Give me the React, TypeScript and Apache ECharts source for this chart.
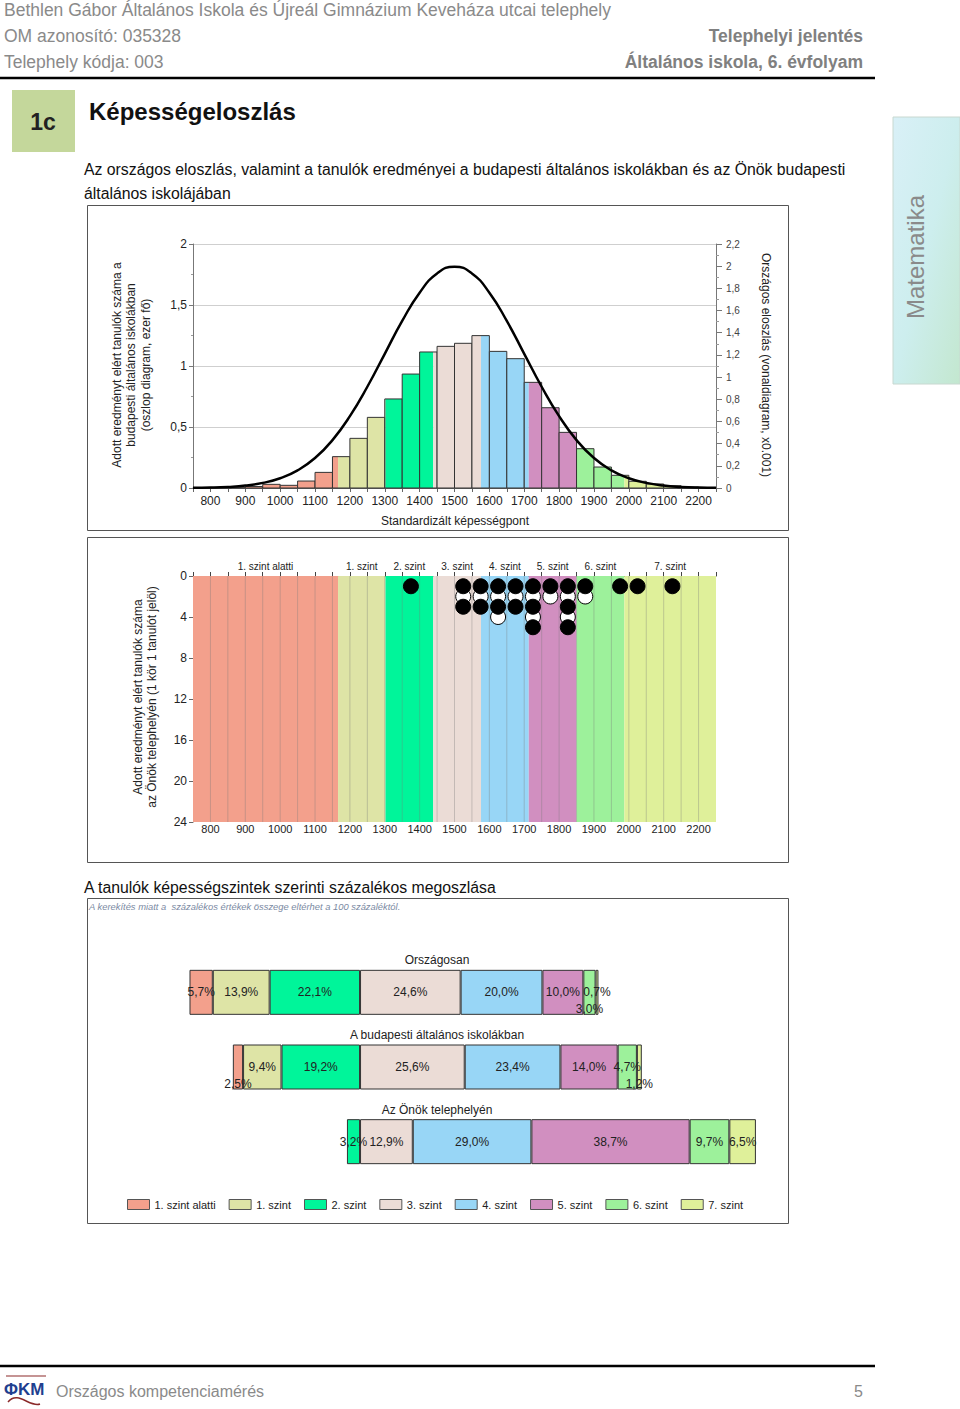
import React, { useEffect, useRef } from "react";
import * as echarts from "echarts";

const FONT = "'Liberation Sans', Arial, Helvetica, sans-serif";

// ---- levels ----
const LEVEL_NAMES = ["1. szint alatti", "1. szint", "2. szint", "3. szint", "4. szint", "5. szint", "6. szint", "7. szint"];
const LEVEL_COLORS = ["#F3A08C", "#DEE4A6", "#00F59A", "#EBDCD6", "#98D6F6", "#D18FC0", "#9DF19B", "#DFF09A"];
const LEVEL_BOUNDS = [750, 1166, 1302, 1439, 1576, 1713, 1850, 1987, 2250];

// ---- chart 1: Budapest histogram (thousand students) ----
const BIN_STARTS = [750, 800, 850, 900, 950, 1000, 1050, 1100, 1150, 1200, 1250, 1300, 1350, 1400, 1450, 1500, 1550, 1600, 1650, 1700, 1750, 1800, 1850, 1900, 1950, 2000, 2050, 2100, 2150, 2200];
const BIN_WIDTH = 50;
const BUDAPEST_COUNTS = [0.002, 0.004, 0.006, 0.012, 0.03, 0.022, 0.057, 0.128, 0.257, 0.407, 0.579, 0.73, 0.934, 1.115, 1.161, 1.186, 1.249, 1.12, 1.06, 0.866, 0.658, 0.456, 0.322, 0.172, 0.104, 0.055, 0.033, 0.019, 0.008, 0.002];

// national distribution curve (x0.001)
const CURVE_X = [750, 800, 850, 900, 950, 1000, 1050, 1100, 1150, 1200, 1250, 1300, 1350, 1400, 1450, 1500, 1550, 1600, 1650, 1700, 1750, 1800, 1850, 1900, 1950, 2000, 2050, 2100, 2150, 2200, 2250];
const CURVE_Y = [0.002, 0.004, 0.01, 0.022, 0.046, 0.088, 0.159, 0.27, 0.432, 0.648, 0.913, 1.21, 1.506, 1.761, 1.934, 1.995, 1.934, 1.761, 1.506, 1.21, 0.913, 0.648, 0.432, 0.27, 0.159, 0.088, 0.046, 0.022, 0.01, 0.004, 0.002];

// ---- chart 2: students of the site (one circle = one student) ----
const DOT_COLUMNS = [1375, 1525, 1575, 1625, 1675, 1725, 1775, 1825, 1875, 1975, 2025, 2125];
const DOT_PATTERNS = ["B", "BWB", "BWB", "BWBW", "BWB", "BWBWB", "BW", "BWBWB", "BW", "B", "B", "B"];

// ---- chart 3: percentage distribution ----
const GROUPS = ["Országosan", "A budapesti általános iskolákban", "Az Önök telephelyén"];
const PCT_ORSZAGOS = [5.7, 13.9, 22.1, 24.6, 20.0, 10.0, 3.0, 0.7];
const PCT_BUDAPEST = [2.5, 9.4, 19.2, 25.6, 23.4, 14.0, 4.7, 1.2];
const PCT_TELEPHELY = [0, 0, 3.2, 12.9, 29.0, 38.7, 9.7, 6.5];

const comma = (v: number) => String(Math.round(v * 100) / 100).replace(".", ",");
const pct = (v: number) => Math.abs(v).toFixed(1).replace(".", ",") + "%";

function txt(x: number, y: number, text: string, o: any = {}) {
  return {
    type: "text",
    x,
    y,
    rotation: o.rotation || 0,
    silent: true,
    style: {
      text,
      fontSize: o.size || 12,
      fontFamily: FONT,
      fontWeight: o.bold ? "bold" : "normal",
      fontStyle: o.italic ? "italic" : "normal",
      fill: o.color || "#222",
      align: o.align || "left",
      verticalAlign: "middle",
      lineHeight: o.lineHeight,
    },
  };
}

function buildOption() {
  const histData = BIN_STARTS.map((s, i) => [s, s + BIN_WIDTH, BUDAPEST_COUNTS[i]]);
  const curveData = CURVE_X.map((x, i) => [x, CURVE_Y[i]]);
  const bandData = LEVEL_NAMES.map((_, i) => [LEVEL_BOUNDS[i], LEVEL_BOUNDS[i + 1], i]);
  const vLines: number[][] = [];
  for (let v = 800; v <= 2200; v += 50) vLines.push([v]);
  const whiteDots: any[] = [];
  const blackDots: any[] = [];
  DOT_COLUMNS.forEach((x, c) => {
    DOT_PATTERNS[c].split("").forEach((ch, r) => {
      (ch === "B" ? blackDots : whiteDots).push([x, r + 1]);
    });
  });

  const pctRows = [PCT_ORSZAGOS, PCT_BUDAPEST, PCT_TELEPHELY];
  const bottomLabel: Record<string, boolean> = { "0-6": true, "1-0": true, "1-7": true };
  const stackOrder = [2, 1, 0, 3, 4, 5, 6, 7];
  const barSeries = stackOrder.map((l) => ({
    type: "bar",
    name: LEVEL_NAMES[l],
    stack: "dist",
    xAxisIndex: 3,
    yAxisIndex: 3,
    barWidth: 45,
    itemStyle: { color: LEVEL_COLORS[l], borderColor: "#333", borderWidth: 1 },
    label: {
      show: true,
      position: "inside",
      fontSize: 12,
      fontFamily: FONT,
      color: "#222",
      formatter: (p: any) => pct(p.value),
    },
    data: pctRows.map((row, r) => {
      const v = row[l];
      if (!v) return "-";
      const item: any = { value: l < 3 ? -v : v };
      if (bottomLabel[`${r}-${l}`]) item.label = { position: "insideBottom", distance: 0 };
      return item;
    }),
  }));

  const graphic: any[] = [
    // header
    txt(4, 10, "Bethlen Gábor Általános Iskola és Újreál Gimnázium Keveháza utcai telephely", { size: 17.5, color: "#8a8a8a" }),
    txt(4, 36, "OM azonosító: 035328", { size: 17.5, color: "#8a8a8a" }),
    txt(4, 62, "Telephely kódja: 003", { size: 17.5, color: "#8a8a8a" }),
    txt(863, 36, "Telephelyi jelentés", { size: 17.5, color: "#808080", bold: true, align: "right" }),
    txt(863, 62, "Általános iskola, 6. évfolyam", { size: 17.5, color: "#808080", bold: true, align: "right" }),
    { type: "line", shape: { x1: 0, y1: 78, x2: 875, y2: 78 }, style: { stroke: "#000", lineWidth: 2.5 } },
    { type: "rect", shape: { x: 12, y: 90, width: 63, height: 62 }, style: { fill: "#C4D79B" } },
    txt(43, 122, "1c", { size: 23, bold: true, color: "#222", align: "center" }),
    txt(89, 111, "Képességeloszlás", { size: 24, bold: true, color: "#111" }),
    txt(84, 169, "Az országos eloszlás, valamint a tanulók eredményei a budapesti általános iskolákban és az Önök budapesti", { size: 15.8, color: "#111" }),
    txt(84, 193, "általános iskolájában", { size: 15.8, color: "#111" }),
    // side tab
    {
      type: "rect",
      shape: { x: 893, y: 117, width: 67, height: 267 },
      style: {
        fill: new echarts.graphic.LinearGradient(0, 0, 1, 1, [
          { offset: 0, color: "#d9f0f7" },
          { offset: 0.5, color: "#cdeeee" },
          { offset: 1, color: "#c3e7cf" },
        ]),
        stroke: "#c8d8d0",
        lineWidth: 1,
      },
    },
    txt(915, 257, "Matematika", { size: 24, color: "#8a8a8a", align: "center", rotation: Math.PI / 2 }),
    // chart boxes
    { type: "rect", shape: { x: 87.5, y: 205.5, width: 701, height: 325 }, style: { fill: "none", stroke: "#555", lineWidth: 1 } },
    { type: "rect", shape: { x: 87.5, y: 537.5, width: 701, height: 325 }, style: { fill: "none", stroke: "#555", lineWidth: 1 } },
    { type: "rect", shape: { x: 87.5, y: 898.5, width: 701, height: 325 }, style: { fill: "none", stroke: "#555", lineWidth: 1 } },
    // chart 1 titles
    txt(131, 365, "Adott eredményt elért tanulók száma a\nbudapesti általános iskolákban\n(oszlop diagram, ezer fő)", { size: 12, align: "center", rotation: Math.PI / 2, lineHeight: 14.5 }),
    txt(766, 365, "Országos eloszlás (vonaldiagram, x0.001)", { size: 12, align: "center", rotation: -Math.PI / 2 }),
    txt(455, 521, "Standardizált képességpont", { size: 12, align: "center" }),
    // chart 2 title
    txt(145, 697, "Adott eredményt elért tanulók száma\naz Önök telephelyén (1 kör 1 tanulót jelöl)", { size: 12, align: "center", rotation: Math.PI / 2, lineHeight: 14.5 }),
    // chart 3 texts
    txt(84, 887, "A tanulók képességszintek szerinti százalékos megoszlása", { size: 15.8, color: "#111" }),
    txt(89, 906, "A kerekítés miatt a  százalékos értékek összege eltérhet a 100 százaléktól.", { size: 9.4, italic: true, color: "#7b8aa3" }),
    txt(437, 960, GROUPS[0], { size: 12, align: "center" }),
    txt(437, 1035, GROUPS[1], { size: 12, align: "center" }),
    txt(437, 1110, GROUPS[2], { size: 12, align: "center" }),
    // footer
    { type: "line", shape: { x1: 0, y1: 1366, x2: 875, y2: 1366 }, style: { stroke: "#000", lineWidth: 2.5 } },
    { type: "bezierCurve", shape: { x1: 8, y1: 1402, x2: 40, y2: 1404, cpx1: 18, cpy1: 1390, cpx2: 30, cpy2: 1408 }, style: { stroke: "#8b2a2a", lineWidth: 1.5, fill: "none" } },
    { type: "line", shape: { x1: 6, y1: 1376, x2: 46, y2: 1376 }, style: { stroke: "#8b2a2a", lineWidth: 1.2 } },
    txt(4, 1389, "ΦKM", { size: 17, color: "#1f3f8f", bold: true }),
    txt(56, 1391, "Országos kompetenciamérés", { size: 16, color: "#8a8a8a" }),
    txt(863, 1391, "5", { size: 16, color: "#8a8a8a", align: "right" }),
  ];

  const labelColor = "#222";
  return {
    animation: false,
    backgroundColor: "#fff",
    textStyle: { fontFamily: FONT },
    grid: [
      { left: 193, top: 244, width: 523, height: 244 },
      { left: 193, top: 576, width: 523, height: 246 },
      { left: 176, top: 955, width: 593, height: 224 },
    ],
    xAxis: [
      {
        gridIndex: 0, type: "value", min: 750, max: 2250, interval: 50,
        axisLine: { show: true, lineStyle: { color: "#666" } },
        axisTick: { show: true, length: 4, lineStyle: { color: "#666" } },
        axisLabel: { fontSize: 12, color: labelColor, margin: 7, formatter: (v: number) => (v % 100 === 0 && v > 750 && v < 2250 ? String(v) : "") },
        splitLine: { show: false },
      },
      {
        gridIndex: 1, type: "value", min: 750, max: 2250, interval: 50,
        axisLine: { show: false }, axisTick: { show: false },
        axisLabel: { fontSize: 11, color: labelColor, margin: 1, formatter: (v: number) => (v % 100 === 0 && v > 750 && v < 2250 ? String(v) : "") },
        splitLine: { show: false },
      },
      {
        gridIndex: 1, type: "value", position: "top", min: 750, max: 2250, interval: 50,
        axisLine: { show: true, lineStyle: { color: "#444" } },
        axisTick: { show: true, length: 4, lineStyle: { color: "#444" } },
        axisLabel: { show: false }, splitLine: { show: false },
      },
      { gridIndex: 2, type: "value", min: -45, max: 100, show: false },
    ],
    yAxis: [
      {
        gridIndex: 0, type: "value", min: 0, max: 2, interval: 0.5,
        axisLine: { show: true, lineStyle: { color: "#777" } },
        axisTick: { show: true, length: 4, lineStyle: { color: "#777" } },
        minorTick: { show: true, splitNumber: 2, length: 2, lineStyle: { color: "#999" } },
        axisLabel: { fontSize: 12, color: labelColor, margin: 6, formatter: comma },
        splitLine: { show: true, lineStyle: { color: "#cfcfcf" } },
      },
      {
        gridIndex: 0, type: "value", position: "right", min: 0, max: 2.2, interval: 0.2,
        axisLine: { show: true, lineStyle: { color: "#777" } },
        axisTick: { show: true, length: 6, lineStyle: { color: "#777" } },
        minorTick: { show: true, splitNumber: 2, length: 3, lineStyle: { color: "#999" } },
        axisLabel: { fontSize: 10, color: "#444", margin: 10, formatter: comma },
        splitLine: { show: false },
      },
      {
        gridIndex: 1, type: "value", inverse: true, min: 0, max: 24, interval: 4,
        axisLine: { show: true, lineStyle: { color: "#666" } },
        axisTick: { show: true, length: 4, lineStyle: { color: "#666" } },
        axisLabel: { fontSize: 12, color: labelColor, margin: 6 },
        splitLine: { show: false },
      },
      { gridIndex: 2, type: "category", data: GROUPS, inverse: true, show: false },
    ],
    legend: {
      data: LEVEL_NAMES,
      left: 122,
      top: 1194,
      icon: "rect",
      itemWidth: 22,
      itemHeight: 10,
      itemGap: 13,
      selectedMode: false,
      textStyle: { fontSize: 11, color: "#222", fontFamily: FONT },
      itemStyle: { borderColor: "#555", borderWidth: 1 },
    },
    series: [
      {
        type: "custom",
        name: "hist",
        xAxisIndex: 0,
        yAxisIndex: 0,
        data: histData,
        encode: { x: [0, 1], y: 2 },
        renderItem: (params: any, api: any) => {
          const x0 = api.value(0), x1 = api.value(1), h = api.value(2);
          const children: any[] = [];
          for (let l = 0; l < LEVEL_NAMES.length; l++) {
            const a = Math.max(x0, LEVEL_BOUNDS[l]);
            const b = Math.min(x1, LEVEL_BOUNDS[l + 1]);
            if (b > a) {
              const p0 = api.coord([a, h]);
              const p1 = api.coord([b, 0]);
              children.push({ type: "rect", shape: { x: p0[0], y: p0[1], width: p1[0] - p0[0], height: p1[1] - p0[1] }, style: { fill: LEVEL_COLORS[l] } });
            }
          }
          const q0 = api.coord([x0, h]);
          const q1 = api.coord([x1, 0]);
          children.push({ type: "rect", shape: { x: q0[0], y: q0[1], width: q1[0] - q0[0], height: q1[1] - q0[1] }, style: { fill: "none", stroke: "#333", lineWidth: 1 } });
          return { type: "group", children };
        },
        z: 2,
      },
      {
        type: "line",
        name: "curve",
        xAxisIndex: 0,
        yAxisIndex: 1,
        data: curveData,
        smooth: true,
        symbol: "none",
        lineStyle: { color: "#000", width: 2.5 },
        z: 5,
      },
      {
        type: "custom",
        name: "bands",
        xAxisIndex: 1,
        yAxisIndex: 2,
        data: bandData,
        renderItem: (params: any, api: any) => {
          const p0 = api.coord([api.value(0), 0]);
          const p1 = api.coord([api.value(1), 24]);
          return { type: "rect", shape: { x: p0[0], y: p0[1], width: p1[0] - p0[0], height: p1[1] - p0[1] }, style: { fill: LEVEL_COLORS[api.value(2)] } };
        },
        z: 1,
      },
      {
        type: "custom",
        name: "vlines",
        xAxisIndex: 1,
        yAxisIndex: 2,
        data: vLines,
        renderItem: (params: any, api: any) => {
          const p0 = api.coord([api.value(0), 0]);
          const p1 = api.coord([api.value(0), 24]);
          return { type: "line", shape: { x1: p0[0], y1: p0[1], x2: p1[0], y2: p1[1] }, style: { stroke: "rgba(120,120,120,0.35)", lineWidth: 1 } };
        },
        z: 2,
      },
      {
        type: "custom",
        name: "levelLabels",
        xAxisIndex: 1,
        yAxisIndex: 2,
        data: bandData,
        renderItem: (params: any, api: any) => {
          const p = api.coord([(api.value(0) + api.value(1)) / 2, 0]);
          return { type: "text", x: p[0], y: p[1] - 10, style: { text: LEVEL_NAMES[api.value(2)], fontSize: 10, fontFamily: FONT, fill: "#222", align: "center", verticalAlign: "middle" } };
        },
        z: 3,
      },
      {
        type: "scatter",
        name: "whiteDots",
        xAxisIndex: 1,
        yAxisIndex: 2,
        data: whiteDots,
        symbol: "circle",
        symbolSize: 15,
        itemStyle: { color: "#fff", opacity: 1, borderColor: "#000", borderWidth: 1 },
        z: 6,
      },
      {
        type: "scatter",
        name: "blackDots",
        xAxisIndex: 1,
        yAxisIndex: 2,
        data: blackDots,
        symbol: "circle",
        symbolSize: 15,
        itemStyle: { color: "#000", opacity: 1, borderColor: "#000", borderWidth: 1 },
        z: 7,
      },
      ...barSeries,
    ],
    graphic,
  };
}

export default function App() {
  const ref = useRef<HTMLDivElement>(null);
  useEffect(() => {
    if (!ref.current) return;
    const chart = echarts.init(ref.current, undefined, { renderer: "svg" });
    chart.setOption(buildOption() as any);
    return () => chart.dispose();
  }, []);
  return <div ref={ref} style={{ position: "absolute", left: 0, top: 0, width: 960, height: 1409, background: "#fff" }} />;
}
